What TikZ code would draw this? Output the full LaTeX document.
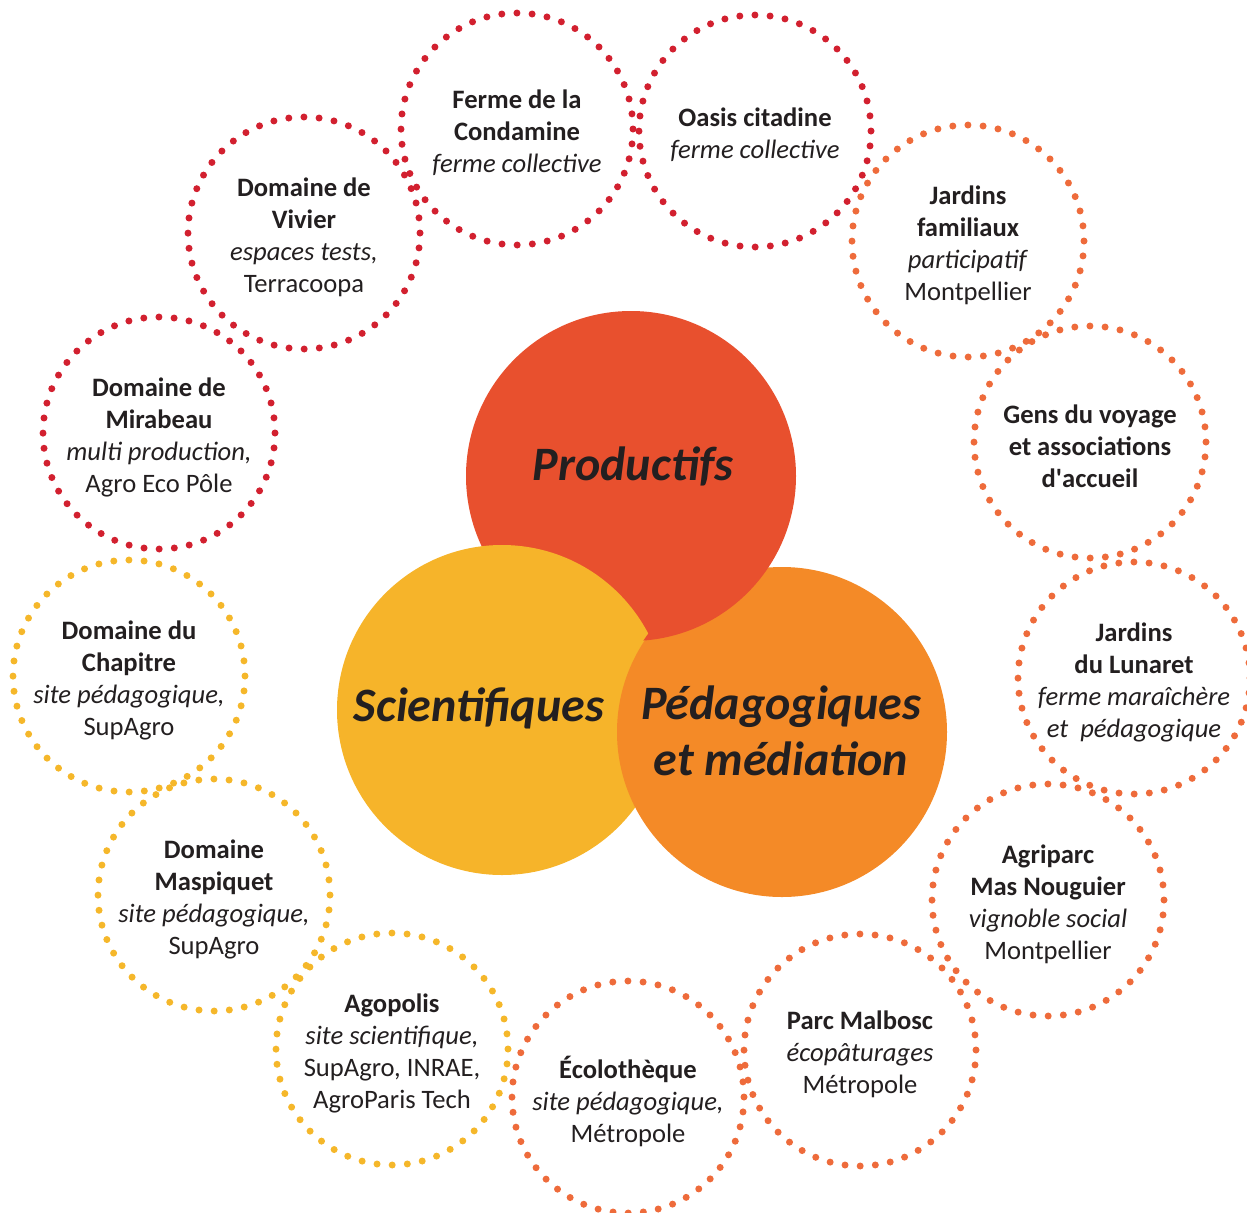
\documentclass[tikz,border=0pt]{standalone}
\usepackage{fontspec}
\setmainfont{Carlito}
\definecolor{cprod}{HTML}{E8502E}
\definecolor{csci}{HTML}{F6B42A}
\definecolor{cped}{HTML}{F48A27}
\definecolor{dred}{HTML}{D2202F}
\definecolor{dcor}{HTML}{EE6B3B}
\definecolor{dyel}{HTML}{F5B72A}
\definecolor{ctext}{HTML}{231F20}
\tikzset{
  dotc/.style={circle, draw=#1, line width=7bp, line cap=round,
    dash pattern=on 0bp off 15.19bp, minimum size=232bp, inner sep=0bp},
  lbl/.style={align=center, text=ctext, inner sep=0bp, font=\fontsize{26.6bp}{32bp}\selectfont},
  big/.style={circle, fill=#1, minimum size=330bp, inner sep=0bp},
  bigtxt/.style={align=center, text=ctext, font=\fontsize{48bp}{56bp}\selectfont\bfseries\itshape}
}
\newcommand{\straightq}{\XeTeXglyph\XeTeXcharglyph39 }
\newcommand{\dotcirc}[5]{%
  \node[dotc=#1] (#2) at (#3) {};
  \node[lbl] (#2-t) at ([yshift=-4bp]#2.center) {#5};}
\begin{document}
\begin{tikzpicture}[x=1bp, y=-1bp]
\useasboundingbox (0,0) rectangle (1247,1213);
% central circles
\node[big=cprod] (prod) at (631,476) {};
\node[big=csci] (sci) at (502,710) {};
\node[big=cped] (ped) at (782,732) {};
\begin{scope}
  \clip (ped.center) circle[radius=166bp];
  \fill[cprod] (prod.center) circle[radius=165bp];
\end{scope}
\node[bigtxt] (prodt) at (633,466) {Productifs};
\node[bigtxt] (scit) at (479,708) {Scientifiques};
\node[bigtxt] (pedt) at (781,731) {Pédagogiques\\et médiation};
% dotted circles - red
\dotcirc{dred}{condamine}{517,129}{}{\textbf{Ferme de la}\\\textbf{Condamine}\\\textit{ferme collective}}
\dotcirc{dred}{oasis}{755,131}{}{\textbf{Oasis citadine}\\\textit{ferme collective}}
\dotcirc{dred}{vivier}{304,233}{}{\textbf{Domaine de}\\\textbf{Vivier}\\\textit{espaces tests,}\\Terracoopa}
\dotcirc{dred}{mirabeau}{159,433}{}{\textbf{Domaine de}\\\textbf{Mirabeau}\\\textit{multi production,}\\Agro Eco Pôle}
% coral
\dotcirc{dcor}{familiaux}{968,241}{}{\textbf{Jardins}\\\textbf{familiaux}\\\textit{participatif}\\Montpellier}
\dotcirc{dcor}{voyage}{1090,442}{}{\textbf{Gens du voyage}\\\textbf{et associations}\\\textbf{d\straightq accueil}}
\dotcirc{dcor}{lunaret}{1134,678}{}{\textbf{Jardins}\\\textbf{du Lunaret}\\\textit{ferme maraîchère}\\\textit{et~ pédagogique}}
\dotcirc{dcor}{agriparc}{1048,900}{}{\textbf{Agriparc}\\\textbf{Mas Nouguier}\\\textit{vignoble social}\\Montpellier}
\dotcirc{dcor}{malbosc}{860,1050}{}{\textbf{Parc Malbosc}\\\textit{écopâturages}\\Métropole}
\dotcirc{dcor}{ecolo}{628,1097}{}{\textbf{Écolothèque}\\\textit{site pédagogique,}\\Métropole}
% yellow
\dotcirc{dyel}{chapitre}{129,676}{}{\textbf{Domaine du}\\\textbf{Chapitre}\\\textit{site pédagogique,}\\SupAgro}
\dotcirc{dyel}{maspiquet}{214,895}{}{\textbf{Domaine}\\\textbf{Maspiquet}\\\textit{site pédagogique,}\\SupAgro}
\dotcirc{dyel}{agopolis}{392,1049}{}{\textbf{Agopolis}\\\textit{site scientifique,}\\SupAgro, INRAE,\\AgroParis Tech}
\end{tikzpicture}
\end{document}
